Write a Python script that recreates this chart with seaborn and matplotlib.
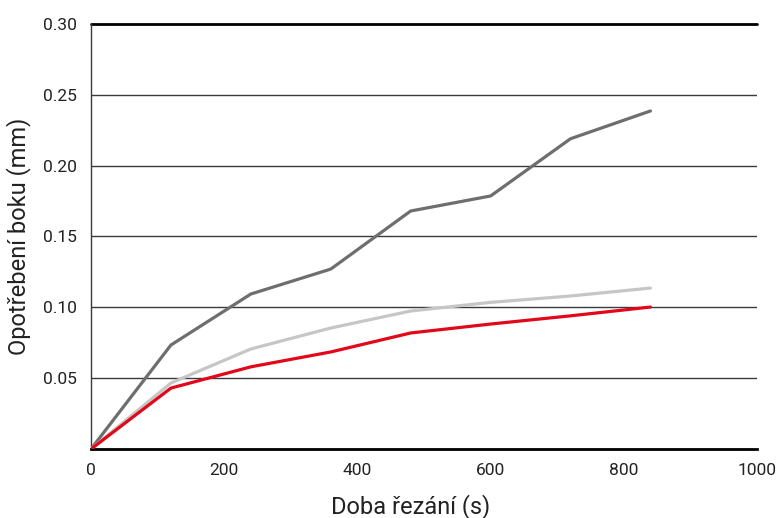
import pandas as pd
import seaborn as sns
import matplotlib.pyplot as plt

# data
cas = [0, 120, 240, 360, 480, 600, 720, 840]
tmava = [0.0, 0.0734, 0.1094, 0.127, 0.168, 0.1786, 0.219, 0.2386]
svetla = [0.0, 0.0466, 0.0706, 0.0854, 0.0974, 0.1035, 0.108, 0.1136]
cervena = [0.0, 0.043, 0.058, 0.0685, 0.0819, 0.0882, 0.094, 0.1002]

df = pd.DataFrame({
    "cas": cas * 3,
    "opotrebeni": tmava + svetla + cervena,
    "serie": ["tmava"] * len(cas) + ["svetla"] * len(cas) + ["cervena"] * len(cas),
})

sns.set_style("white")
plt.rcParams["font.family"] = ["Roboto", "DejaVu Sans"]

fig = plt.figure(figsize=(7.8, 5.18), dpi=100)
ax = fig.add_axes([0.1167, 0.1332, 0.8538, 0.8205])

# horizontal grid lines
for yv in [0.05, 0.10, 0.15, 0.20, 0.25]:
    ax.axhline(yv, color="#3a3a3a", lw=1.0, zorder=1)
ax.axhline(0.30, color="black", lw=2.0, zorder=1, clip_on=False)

sns.lineplot(
    data=df, x="cas", y="opotrebeni", hue="serie",
    palette={"tmava": "#6e6e6e", "svetla": "#c6c6c6", "cervena": "#e3071a"},
    hue_order=["tmava", "svetla", "cervena"],
    linewidth=2.3, legend=False, ax=ax, zorder=3,
)

ax.set_xlim(0, 1000)
ax.set_ylim(0, 0.30)
ax.set_xticks([0, 200, 400, 600, 800, 1000])
ax.set_yticks([0.05, 0.10, 0.15, 0.20, 0.25, 0.30])
ax.set_yticklabels(["0.05", "0.10", "0.15", "0.20", "0.25", "0.30"])

for s in ["top", "right"]:
    ax.spines[s].set_visible(False)
ax.spines["left"].set_color("#3a3a3a")
ax.spines["left"].set_linewidth(1.0)
ax.spines["bottom"].set_color("black")
ax.spines["bottom"].set_linewidth(2.0)

ax.tick_params(axis="y", length=6, width=1.0, color="#3a3a3a", labelsize=12.5, pad=4, direction="out")
ax.tick_params(axis="x", length=6, width=1.5, color="black", labelsize=12.5, pad=4, direction="out")
ax.tick_params(which="both", labelcolor="#222222")

ax.set_xlabel("Doba řezání (s)", fontsize=17, color="#222222")
ax.set_ylabel("Opotřebení boku (mm)", fontsize=17, color="#222222")
ax.xaxis.set_label_coords(0.48, -0.105)
ax.yaxis.set_label_coords(-0.09, 0.5)

fig.savefig("out.png", dpi=100)
